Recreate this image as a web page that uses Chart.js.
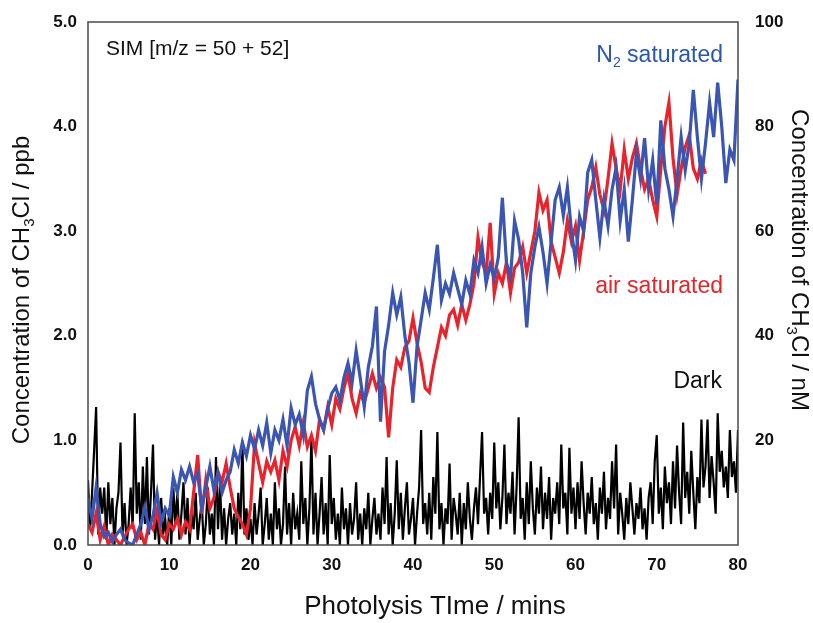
<!DOCTYPE html>
<html>
<head>
<meta charset="utf-8">
<script src="https://cdn.jsdelivr.net/npm/chart.js@4.4.1/dist/chart.umd.min.js"></script>
<style>
  html, body { margin: 0; padding: 0; background: #fff; }
  #wrap { width: 813px; height: 623px; position: relative; }
</style>
</head>
<body>
<div id="wrap"><canvas id="chart" width="813" height="623"></canvas></div>
<script>
// sampling intervals (mins)
const STEP_SAT = 0.5;
const STEP_DARK = 0.25;

const xTicks = [0, 10, 20, 30, 40, 50, 60, 70, 80];
const ppbTicks = [0, 1, 2, 3, 4, 5];
const nmTicks = [20, 40, 60, 80, 100];

// N2 saturated, ppb, every 0.5 min from 0
const n2Saturated = [
  0.45, 0.25, 0.55, 0.20, 0.08, 0.12, 0.03, 0.10, 0.15, 0.05,
  0.02, 0.00, 0.10, 0.20, 0.36, 0.15, 0.28, 0.50, 0.22, 0.35,
  0.28, 0.65, 0.50, 0.72, 0.62, 0.75, 0.60, 0.68, 0.35, 0.55,
  0.75, 0.52, 0.69, 0.50, 0.62, 0.70, 0.91, 0.78, 0.98, 0.85,
  1.05, 0.92, 1.10, 0.95, 1.17, 0.88, 1.10, 1.00, 1.20, 0.95,
  1.31, 1.15, 1.25, 1.05, 1.48, 1.61, 1.35, 1.20, 1.10, 1.30,
  1.45, 1.51, 1.38, 1.60, 1.74, 1.55, 1.86, 1.60, 1.32, 1.70,
  1.90, 2.28, 1.18, 1.85, 2.10, 2.41, 2.20, 2.37, 2.00, 1.75,
  1.36, 1.90, 2.15, 2.41, 2.25, 2.55, 2.87, 2.34, 2.50, 2.40,
  2.60, 2.45, 2.30, 2.53, 2.40, 2.72, 2.60, 2.85, 2.50, 2.68,
  2.55, 2.75, 3.32, 2.70, 2.56, 3.10, 2.92, 2.60, 2.08, 2.60,
  2.85, 3.04, 2.80, 2.50, 2.90, 3.30, 3.42, 3.15, 3.42, 3.00,
  2.72, 3.14, 3.00, 3.56, 3.68, 3.30, 2.94, 3.30, 3.05, 3.40,
  3.61, 3.10, 3.40, 2.90, 3.30, 3.75, 3.50, 3.89, 3.40, 3.68,
  3.25, 4.06, 3.60, 3.40, 3.14, 3.50, 3.90, 3.58, 3.84, 4.35,
  3.90, 3.50, 3.84, 4.23, 3.90, 4.42, 4.00, 3.46, 3.78, 3.68,
  4.45
];

// air saturated, ppb, every 0.5 min from 0
const airSaturated = [
  0.20, 0.12, 0.30, 0.05, 0.18, 0.00, 0.10, 0.05, 0.00, 0.08,
  0.15, 0.20, 0.05, 0.12, 0.00, 0.20, 0.15, 0.33, 0.10, 0.05,
  0.20, 0.15, 0.25, 0.10, 0.22, 0.15, 0.50, 0.86, 0.30, 0.62,
  0.35, 0.45, 0.70, 0.60, 0.78, 0.55, 0.35, 0.27, 0.20, 0.10,
  0.35, 0.97, 0.78, 0.60, 0.80, 0.70, 0.81, 0.62, 0.90, 0.75,
  1.00, 1.13, 0.95, 1.17, 0.94, 1.05, 0.90, 1.20, 1.10, 1.32,
  1.15, 1.40, 1.30, 1.50, 1.64, 1.40, 1.26, 1.45, 1.36, 1.50,
  1.64, 1.50, 1.60, 1.51, 1.03, 1.50, 1.77, 1.70, 1.89, 1.95,
  2.17, 1.93, 1.75, 1.50, 1.46, 1.70, 1.89, 2.08, 2.00, 2.20,
  2.25, 2.10, 2.30, 2.15, 2.30, 2.50, 2.94, 2.70, 2.60, 3.08,
  2.40, 2.60, 2.50, 2.70, 2.41, 2.65, 2.70, 2.85, 2.60, 2.80,
  3.00, 3.37, 3.20, 3.30, 2.90, 2.75, 2.60, 2.80, 3.10, 2.90,
  3.05, 2.72, 3.00, 3.30, 3.42, 3.61, 3.35, 3.20, 3.50, 3.84,
  3.60, 3.40, 3.78, 3.50, 3.70, 3.84, 3.60, 3.40, 3.50, 3.30,
  3.14, 3.60, 4.00, 4.23, 3.70, 3.35, 3.60, 3.80, 3.92, 3.60,
  3.50, 3.68, 3.55
];

// dark control, ppb, every 0.25 min from 0
const dark = [
  0.62, 0.15, 0.50, 0.90, 1.32, 0.10, 0.55, 0.30,
  0.55, 0.05, 0.60, 0.20, 0.45, 0.00, 0.35, 0.50,
  0.98, 0.10, 0.40, 0.00, 0.20, 0.55, 0.15, 1.26,
  0.30, 0.60, 0.05, 0.75, 0.20, 0.84, 0.10, 0.50,
  0.96, 0.05, 0.30, 0.00, 0.45, 0.10, 0.25, 0.00,
  0.35, 0.00, 0.55, 0.20, 0.50, 0.05, 0.30, 0.60,
  0.10, 0.45, 0.00, 0.30, 0.15, 0.50, 0.05, 0.25,
  0.40, 0.00, 0.20, 0.55, 0.10, 0.30, 0.00, 0.84,
  0.15, 0.60, 0.05, 0.35, 0.00, 0.25, 0.40, 0.10,
  0.30, 0.00, 0.50, 0.15, 1.00, 0.10, 0.35, 0.05,
  0.25, 0.00, 0.40, 0.10, 0.30, 0.55, 0.00, 0.20,
  0.45, 0.05, 0.30, 0.00, 0.60, 0.15, 0.35, 0.00,
  0.20, 0.75, 0.10, 0.40, 0.00, 0.50, 0.15, 0.30,
  0.05, 0.80, 0.20, 0.45, 0.00, 0.35, 1.02, 0.10,
  0.50, 0.00, 0.30, 0.65, 0.10, 0.40, 0.00, 0.86,
  0.20, 0.45, 0.05, 0.30, 0.00, 0.55, 0.15, 0.35,
  0.00, 0.40, 0.10, 0.25, 0.60, 0.05, 0.30, 0.00,
  0.35, 0.15, 0.50, 0.00, 0.25, 0.45, 0.10, 0.30,
  0.05, 0.55, 0.20, 0.84, 0.10, 0.40, 0.00, 0.30,
  0.81, 0.15, 0.50, 0.05, 0.35, 0.60, 0.10, 0.25,
  0.45, 0.00, 0.30, 0.55, 1.10, 0.20, 0.40, 0.10,
  0.50, 0.05, 0.65, 0.30, 1.08, 0.15, 0.40, 0.00,
  0.35, 0.20, 0.78, 0.05, 0.45, 0.30, 0.10, 0.50,
  0.00, 0.40, 0.15, 0.60, 0.25, 0.05, 0.35, 0.55,
  0.20, 0.65, 1.08, 0.30, 0.45, 0.10, 0.50, 0.25,
  0.98, 0.35, 0.60, 0.15, 0.45, 0.96, 0.20, 0.50,
  0.30, 0.70, 0.10, 0.55, 1.22, 0.25, 0.45, 0.05,
  0.60, 0.20, 0.80, 0.35, 0.10, 0.55, 0.30, 0.75,
  0.15, 0.50, 0.25, 0.65, 0.05, 0.45, 0.30, 0.60,
  0.20, 0.96, 0.35, 0.50, 0.10, 0.93, 0.30, 0.55,
  0.15, 0.60, 0.25, 0.80, 0.40, 0.10, 0.50, 0.30,
  0.65, 0.20, 0.40, 0.05, 0.55, 0.30, 0.70, 0.15,
  0.45, 0.25, 0.80, 0.35, 0.96, 0.10, 0.50, 0.30,
  0.05, 0.45, 0.20, 0.60, 0.35, 0.10, 0.40, 0.25,
  0.55, 0.15, 0.35, 0.05, 0.45, 0.60, 0.20, 0.80,
  1.05, 0.30, 0.55, 0.15, 0.75, 0.40, 0.60, 0.20,
  0.80, 0.35, 0.95, 0.50, 0.20, 1.17, 0.45, 0.70,
  0.30, 0.90, 0.50, 0.15, 0.65, 0.40, 1.20, 0.55,
  0.75, 1.20, 0.45, 0.85, 0.60, 0.30, 1.26, 0.70,
  0.90, 0.55, 0.75, 0.45, 1.10, 0.65, 0.80, 0.50,
  1.10
];

const BLUE = '#3b55b2';
const RED = '#e8232b';
const FONT = '"Liberation Sans", Arial, Helvetica, sans-serif';

function toPoints(values, step) {
  return values.map((v, i) => ({ x: i * step, y: v }));
}

// draws text runs, some as subscripts
function drawRuns(ctx, runs, x, y, size, align) {
  const subSize = Math.round(size * 0.62);
  let total = 0;
  runs.forEach(r => {
    ctx.font = (r.sub ? subSize : size) + 'px ' + FONT;
    r.w = ctx.measureText(r.t).width;
    total += r.w;
  });
  let cx = align === 'center' ? x - total / 2 : (align === 'right' ? x - total : x);
  ctx.textAlign = 'left';
  ctx.textBaseline = 'middle';
  runs.forEach(r => {
    ctx.font = (r.sub ? subSize : size) + 'px ' + FONT;
    ctx.fillText(r.t, cx, r.sub ? y + size * 0.32 : y);
    cx += r.w;
  });
}

const decorations = {
  id: 'decorations',
  afterDatasetsDraw(chart) {
    const ctx = chart.ctx;
    const a = chart.chartArea;
    ctx.save();
    // frame
    ctx.strokeStyle = '#4a4a4a';
    ctx.lineWidth = 1.5;
    ctx.strokeRect(a.left, a.top, a.right - a.left, a.bottom - a.top);

    // in-plot labels
    ctx.fillStyle = '#111';
    drawRuns(ctx, [{ t: 'SIM [m/z = 50 + 52]' }], 106, 49, 21, 'left');
    ctx.fillStyle = '#2c57a8';
    drawRuns(ctx, [{ t: 'N' }, { t: '2', sub: true }, { t: ' saturated' }], 723, 56, 23, 'right');
    ctx.fillStyle = '#e3262d';
    drawRuns(ctx, [{ t: 'air saturated' }], 723, 287, 23, 'right');
    ctx.fillStyle = '#111';
    drawRuns(ctx, [{ t: 'Dark' }], 722, 382, 23, 'right');

    // axis titles
    ctx.fillStyle = '#111';
    drawRuns(ctx, [{ t: 'Photolysis TIme / mins' }], 435, 607, 26, 'center');

    ctx.save();
    ctx.translate(22, 290);
    ctx.rotate(-Math.PI / 2);
    drawRuns(ctx, [{ t: 'Concentration of CH' }, { t: '3', sub: true }, { t: 'Cl / ppb' }], 0, 0, 24, 'center');
    ctx.restore();

    ctx.save();
    ctx.translate(799, 260);
    ctx.rotate(Math.PI / 2);
    drawRuns(ctx, [{ t: 'Concentration of CH' }, { t: '3', sub: true }, { t: 'Cl / nM' }], 0, 0, 24, 'center');
    ctx.restore();

    ctx.restore();
  }
};

const tickFont = { family: FONT, size: 17, weight: 'bold' };

new Chart(document.getElementById('chart'), {
  type: 'line',
  data: {
    datasets: [
      {
        label: 'N2 saturated',
        data: toPoints(n2Saturated, STEP_SAT),
        borderColor: BLUE,
        borderWidth: 3.2,
        order: 0
      },
      {
        label: 'air saturated',
        data: toPoints(airSaturated, STEP_SAT),
        borderColor: RED,
        borderWidth: 3.2,
        order: 1
      },
      {
        label: 'Dark',
        data: toPoints(dark, STEP_DARK),
        borderColor: '#000',
        borderWidth: 2.2,
        order: 2
      }
    ]
  },
  options: {
    responsive: false,
    animation: false,
    events: [],
    layout: { padding: { top: 22, left: 0, right: 0, bottom: 0 } },
    elements: {
      point: { radius: 0 },
      line: { tension: 0, fill: false }
    },
    plugins: {
      legend: { display: false },
      tooltip: { enabled: false }
    },
    scales: {
      x: {
        type: 'linear',
        min: 0,
        max: 80,
        afterBuildTicks: s => { s.ticks = xTicks.map(v => ({ value: v })); },
        ticks: { font: tickFont, color: '#111', padding: 2, maxRotation: 0 },
        grid: { display: false },
        border: { display: false },
        afterFit: s => { s.height = 78; }
      },
      y: {
        position: 'left',
        min: 0,
        max: 5,
        afterBuildTicks: s => { s.ticks = ppbTicks.map(v => ({ value: v })); },
        ticks: { font: tickFont, color: '#111', padding: 3, callback: v => v.toFixed(1) },
        grid: { display: false },
        border: { display: false },
        afterFit: s => { s.width = 88; }
      },
      y2: {
        position: 'right',
        min: 0,
        max: 100,
        afterBuildTicks: s => { s.ticks = nmTicks.map(v => ({ value: v })); },
        ticks: { font: tickFont, color: '#111', padding: 9 },
        grid: { display: false },
        border: { display: false },
        afterFit: s => { s.width = 75; }
      }
    }
  },
  plugins: [decorations]
});
</script>
</body>
</html>
